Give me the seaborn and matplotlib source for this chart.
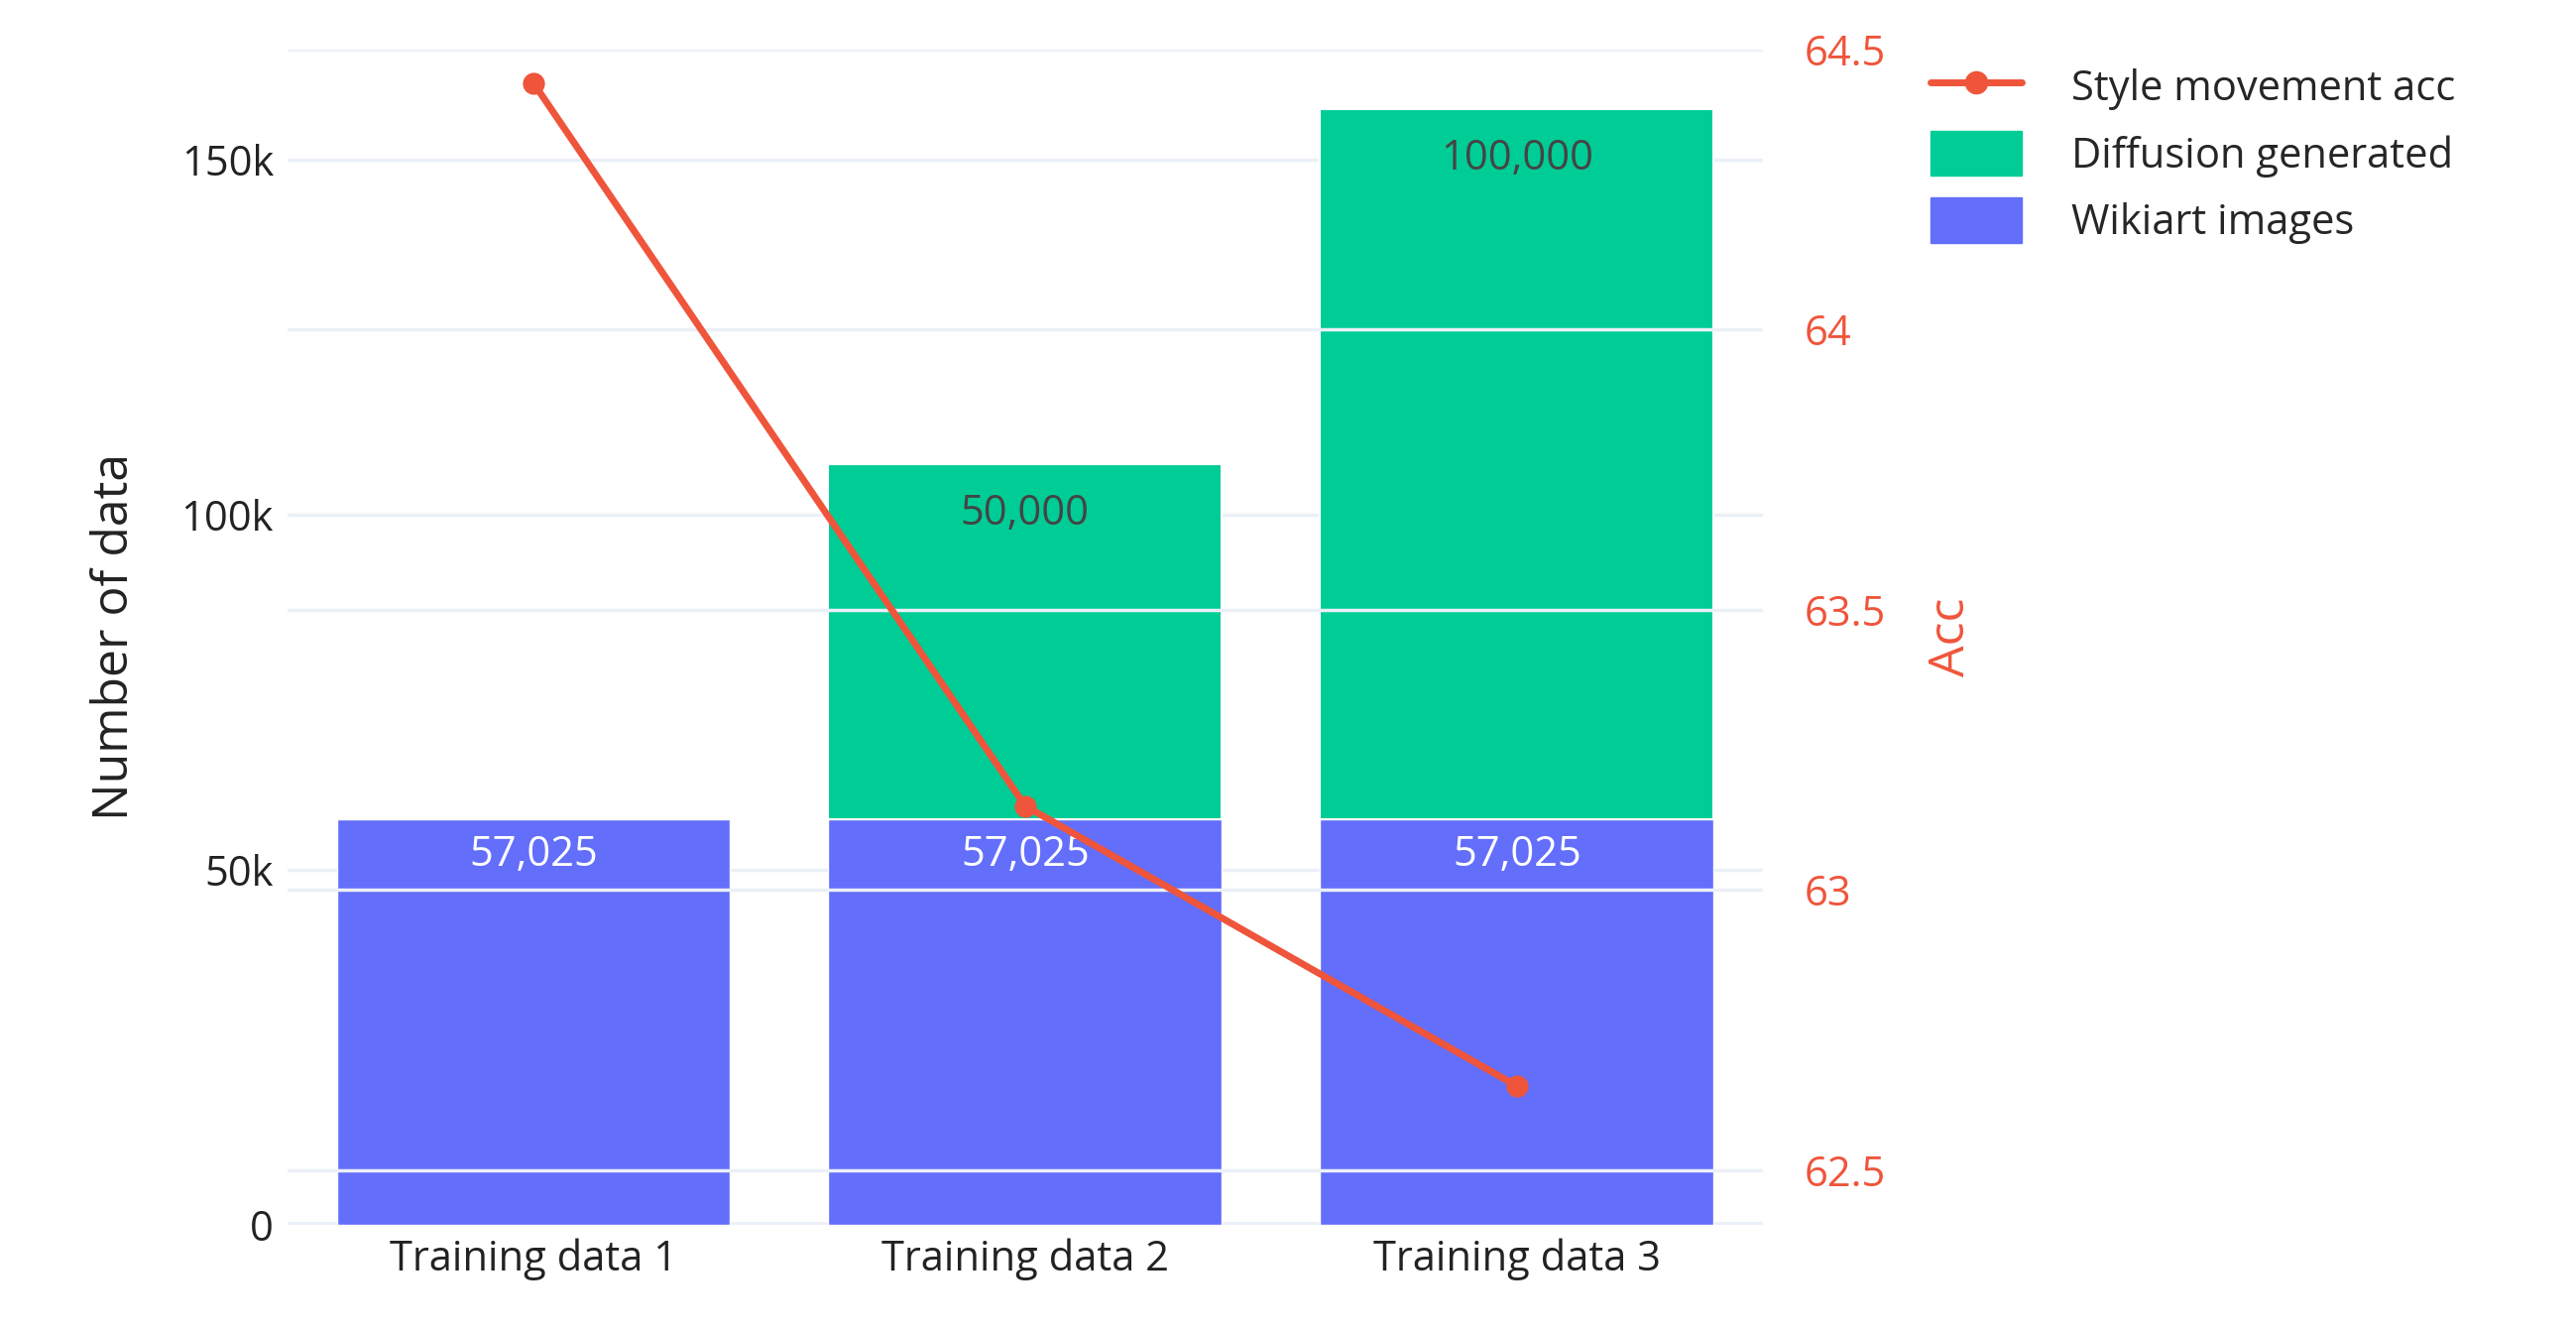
import numpy as np
import pandas as pd
import seaborn as sns
import matplotlib
matplotlib.use('Agg')
from matplotlib import pyplot as plt
from matplotlib.patches import Patch
from matplotlib.lines import Line2D

categories = ['Training data 1', 'Training data 2', 'Training data 3']
wikiart = [57025, 57025, 57025]
diffusion = [0, 50000, 100000]
acc = [64.44, 63.15, 62.65]

blue = '#636EFA'
green = '#00CC96'
red = '#EF553B'
grid = '#EBF0F8'

sns.set_style('white')
plt.rcParams['font.family'] = ['Open Sans', 'DejaVu Sans']

f = plt.figure(figsize=(25.98, 13.42), dpi=100)
ax = f.add_axes([0.1116, 0.080, 0.5727, 0.883])
ax2 = ax.twinx()

df = pd.DataFrame({'cat': categories, 'wiki': wikiart, 'diff': diffusion, 'acc': acc})
sns.barplot(data=df, x='cat', y='wiki', color=blue, width=0.8, saturation=1, ax=ax, zorder=2)
sns.barplot(data=df, x='cat', y='diff', color=green, width=0.8, saturation=1,
            bottom=df['wiki'], ax=ax, zorder=2, edgecolor='white', linewidth=1.5)

for i in range(3):
    ax.text(i, wikiart[i] - 5000, f'{wikiart[i]:,}', ha='center', va='center',
            color='white', fontsize=30, zorder=3)
    if diffusion[i] > 0:
        top = wikiart[i] + diffusion[i]
        ax.text(i, top - 7000, f'{diffusion[i]:,}', ha='center', va='center',
                color='#444444', fontsize=30, zorder=3)

ax.set_xlim(-0.5, 2.5)
ax.set_ylim(0, 165500)
ax.set_yticks([0, 50000, 100000, 150000])
ax.set_yticklabels(['0', '50k', '100k', '150k'])
ax.grid(axis='y', color=grid, lw=2.5, zorder=0)
ax.set_axisbelow(True)
ax.set_xlabel('')
ax.set_ylabel('Number of data', fontsize=36, color='#222222', labelpad=30)
ax.tick_params(axis='both', labelsize=30, colors='#222222', length=0, pad=10)
for s in ax.spines.values():
    s.set_visible(False)
ax.axhline(0, color=grid, lw=5, zorder=1)

sns.lineplot(x=[0, 1, 2], y=acc, color=red, lw=5, marker='o', markersize=16,
             markeredgewidth=0, ax=ax2, zorder=5)
ax2.set_ylim(62.403, 64.5)
ax2.set_yticks([62.5, 63, 63.5, 64, 64.5])
ax2.set_yticklabels(['62.5', '63', '63.5', '64', '64.5'])
ax2.grid(axis='y', color=grid, lw=2.5)
ax2.tick_params(axis='y', labelsize=30, colors=red, length=0, pad=30)
ax2.set_ylabel('Acc', fontsize=36, color=red, labelpad=30)
for s in ax2.spines.values():
    s.set_visible(False)
ax.set_zorder(ax2.get_zorder() - 1) if False else None

handles = [Line2D([0], [0], color=red, lw=5, marker='o', markersize=16),
           Patch(color=green), Patch(color=blue)]
labels = ['Style movement acc', 'Diffusion generated', 'Wikiart images']
f.legend(handles, labels, loc='upper left', bbox_to_anchor=(0.735, 0.98),
         frameon=False, fontsize=30, handlelength=2.2, handleheight=1.3,
         labelspacing=0.5, handletextpad=1.2)

f.savefig('out.png', dpi=100)
